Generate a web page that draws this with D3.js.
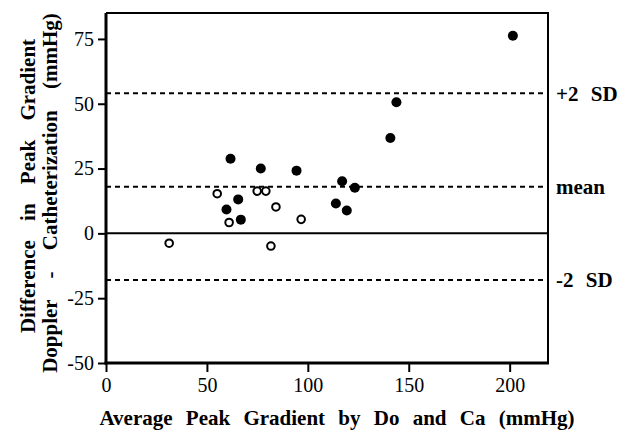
<!DOCTYPE html>
<html>
<head>
<meta charset="utf-8">
<script src="https://cdn.jsdelivr.net/npm/d3@7"></script>
<style>
  html, body { margin: 0; padding: 0; background: #fff; }
  svg text { font-family: "Liberation Serif", "Tinos", "DejaVu Serif", "Noto Serif", "Times New Roman", serif; fill: #000; }
  .lbl { font-weight: bold; font-size: 21px; }
</style>
</head>
<body>
<div id="chart"></div>
<script>
// ── DATA ───────────────────────────────────────────────────────────────
// [average gradient, difference]
const filledPts = [
    [61.7, 28.8], [76.7, 25.0], [94.4, 24.2], [117.0, 20.1], [123.3, 17.6],
    [65.5, 13.1], [59.7, 9.2], [66.8, 5.3], [113.9, 11.5], [119.3, 8.8],
    [201.6, 76.2], [143.9, 50.6], [140.9, 36.8]
];
const openPts = [
    [55.1, 15.3], [74.9, 16.3], [79.2, 16.3], [84.2, 10.2],
    [61.0, 4.2], [96.7, 5.4], [31.3, -3.8], [81.7, -4.9]
];
const limitValues = [54, 18, -18];
const limitLabels = ["+2 SD", "mean", "-2 SD"];
const xTicks = [0, 50, 100, 150, 200];
const yTicks = [-50, -25, 0, 25, 50, 75];

(function () {
    const width = 633, height = 432;
    const left = 106, right = 548, top = 13, bottom = 363;
    const serif = '"Liberation Serif", "Tinos", "DejaVu Serif", serif';

    const svg = d3.select("#chart")
        .append("svg")
        .attr("width", width)
        .attr("height", height)
        .attr("font-family", serif);

    // ── SCALES ─────────────────────────────────────────────────────────
    const x = d3.scaleLinear().domain([0, 219]).range([left, right]);
    const y = d3.scaleLinear().domain([-50, 85]).range([bottom, top]);

    // ── FRAME (top + right) ────────────────────────────────────────────
    svg.append("path")
        .attr("d", `M${left},${top}H${right}V${bottom}`)
        .attr("fill", "none")
        .attr("stroke", "#000")
        .attr("stroke-width", 2);

    // zero line
    svg.append("line")
        .attr("x1", left).attr("x2", right)
        .attr("y1", y(0)).attr("y2", y(0))
        .attr("stroke", "#000").attr("stroke-width", 2);

    // ── LIMIT LINES ────────────────────────────────────────────────────
    svg.selectAll(".limit")
        .data(limitValues)
        .enter().append("line")
        .attr("class", "limit")
        .attr("x1", left).attr("x2", right)
        .attr("y1", d => y(d)).attr("y2", d => y(d))
        .attr("stroke", "#000")
        .attr("stroke-width", 2)
        .attr("stroke-dasharray", "5,4");

    svg.selectAll(".limit-label")
        .data(limitValues)
        .enter().append("text")
        .attr("class", "lbl")
        .attr("x", right + 8)
        .attr("y", d => y(d))
        .attr("dy", "0.35em")
        .style("word-spacing", "7px")
        .text((d, i) => limitLabels[i]);

    // ── AXES ───────────────────────────────────────────────────────────
    // plain hyphen for negatives, as in the original
    const fmt = d => String(d);

    const xAxis = svg.append("g")
        .attr("transform", `translate(0,${bottom})`)
        .call(d3.axisBottom(x).tickValues(xTicks).tickFormat(fmt)
            .tickSize(9).tickPadding(6).tickSizeOuter(0));

    const yAxis = svg.append("g")
        .attr("transform", `translate(${left},0)`)
        .call(d3.axisLeft(y).tickValues(yTicks).tickFormat(fmt)
            .tickSize(8).tickPadding(4).tickSizeOuter(0));

    [xAxis, yAxis].forEach(a => {
        a.attr("font-family", serif).attr("font-size", 20);
        a.select(".domain").attr("stroke-width", 3);
        a.selectAll(".tick line").attr("stroke-width", 2);
    });
    xAxis.select(".domain").attr("d", `M${left - 1.5},0H${right + 1}`);
    yAxis.select(".domain").attr("d", `M0,${top}V${bottom + 1.5}`);

    // ── POINTS ─────────────────────────────────────────────────────────
    svg.selectAll(".filled")
        .data(filledPts)
        .enter().append("circle")
        .attr("class", "filled")
        .attr("cx", d => x(d[0]))
        .attr("cy", d => y(d[1]))
        .attr("r", 5)
        .attr("fill", "#000");

    svg.selectAll(".open")
        .data(openPts)
        .enter().append("circle")
        .attr("class", "open")
        .attr("cx", d => x(d[0]))
        .attr("cy", d => y(d[1]))
        .attr("r", 3.8)
        .attr("fill", "#fff")
        .attr("stroke", "#000")
        .attr("stroke-width", 2);

    // ── AXIS TITLES ────────────────────────────────────────────────────
    svg.append("text")
        .attr("class", "lbl")
        .attr("x", 337)
        .attr("y", 425)
        .attr("text-anchor", "middle")
        .style("word-spacing", "8px")
        .text("Average Peak Gradient by Do and Ca (mmHg)");

    svg.append("text")
        .attr("class", "lbl")
        .attr("transform", "translate(35,186) rotate(-90)")
        .attr("text-anchor", "middle")
        .style("word-spacing", "14px")
        .text("Difference in Peak Gradient");

    svg.append("text")
        .attr("class", "lbl")
        .attr("transform", "translate(57,193) rotate(-90)")
        .attr("text-anchor", "middle")
        .style("word-spacing", "16px")
        .text("Doppler - Catheterization (mmHg)");
})();
</script>
</body>
</html>
